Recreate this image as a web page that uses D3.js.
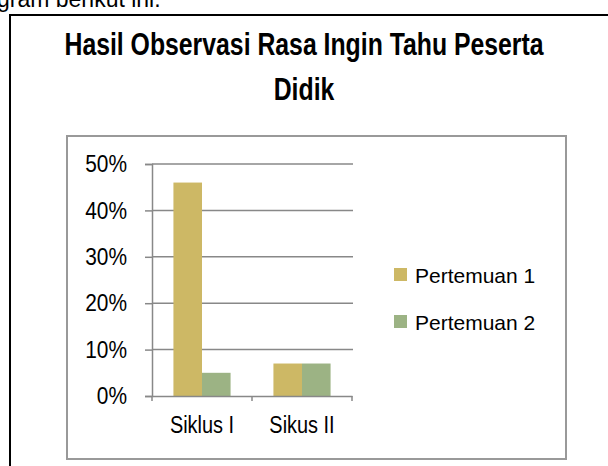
<!DOCTYPE html>
<html>
<head>
<meta charset="utf-8">
<script src="https://d3js.org/d3.v7.min.js"></script>
<style>
body { margin: 0; background: #fff; }
svg { display: block; font-family: "Liberation Sans", Arial, sans-serif; }
</style>
</head>
<body>
<svg id="chart"></svg>
<script>
// data
const categories = ["Siklus I", "Sikus II"];
const seriesNames = ["Pertemuan 1", "Pertemuan 2"];
const pertemuan1 = [0.46, 0.07];
const pertemuan2 = [0.05, 0.07];
const yTicks = [0, 0.1, 0.2, 0.3, 0.4, 0.5];
const colors = ["#CDB865", "#9CB384"];

const W = 608, H = 466;
const svg = d3.select("#chart").attr("width", W).attr("height", H);

// the source picture squeezes most text sideways
function squeezed(sel, x, y, sx) {
  return sel.attr("transform", `translate(${x},${y}) scale(${sx},1)`);
}

// text cut off from the page above
svg.append("text")
  .attr("font-size", 23)
  .call(squeezed, -3, 7, 1)
  .text("gram berikut ini.");

// outer frame (page table)
svg.append("line").attr("x1", 9).attr("x2", 608).attr("y1", 15).attr("y2", 15)
  .attr("stroke", "#000").attr("stroke-width", 2);
svg.append("line").attr("x1", 10).attr("x2", 10).attr("y1", 15).attr("y2", H)
  .attr("stroke", "#000").attr("stroke-width", 2);

// title
svg.append("text").attr("text-anchor", "middle")
  .attr("font-size", 31).attr("font-weight", "bold")
  .call(squeezed, 304, 55, 0.8)
  .text("Hasil Observasi Rasa Ingin Tahu Peserta");
svg.append("text").attr("text-anchor", "middle")
  .attr("font-size", 31).attr("font-weight", "bold")
  .call(squeezed, 304, 100, 0.8)
  .text("Didik");

// plot area box
svg.append("rect")
  .attr("x", 67).attr("y", 136).attr("width", 499).attr("height", 323)
  .attr("fill", "none").attr("stroke", "#999").attr("stroke-width", 2);

const pLeft = 152, pRight = 352, pTop = 164, pBottom = 396;

const y = d3.scaleLinear().domain([0, 0.5]).range([pBottom, pTop]);
const x0 = d3.scaleBand().domain(categories).range([pLeft, pRight]).paddingInner(0).paddingOuter(0);
const x1 = d3.scaleBand().domain(seriesNames).range([0, x0.bandwidth()])
  .paddingInner(0).paddingOuter(0.75);

// gridlines
svg.append("g").selectAll("line").data(yTicks.slice(1)).join("line")
  .attr("x1", pLeft).attr("x2", pRight + 1)
  .attr("y1", d => y(d)).attr("y2", d => y(d))
  .attr("stroke", "#888").attr("stroke-width", 1.5);

// bars
const rows = categories.map((c, i) => ({ cat: c, values: [pertemuan1[i], pertemuan2[i]] }));
const groups = svg.append("g").selectAll("g").data(rows).join("g")
  .attr("transform", d => `translate(${x0(d.cat)},0)`);
groups.selectAll("rect").data(d => d.values.map((v, j) => ({ name: seriesNames[j], v: v, j: j })))
  .join("rect")
  .attr("x", d => x1(d.name))
  .attr("width", x1.bandwidth())
  .attr("y", d => y(d.v))
  .attr("height", d => pBottom - y(d.v))
  .attr("fill", d => colors[d.j]);

// y axis
const ySx = 0.87;
const yAxis = svg.append("g")
  .attr("transform", `translate(${pLeft},0)`)
  .call(d3.axisLeft(y).tickValues(yTicks).tickFormat(d3.format(".0%")).tickSize(7));
yAxis.select(".domain").attr("stroke", "#888").attr("stroke-width", 1.5);
yAxis.selectAll(".tick line").attr("stroke", "#888").attr("stroke-width", 1.5);
yAxis.selectAll("text")
  .attr("font-size", 24).attr("fill", "#000").attr("font-family", "Liberation Sans, Arial, sans-serif")
  .attr("x", -25 / ySx).attr("transform", `scale(${ySx},1)`);

// x axis
const xAxis = svg.append("g")
  .attr("transform", `translate(0,${pBottom})`)
  .call(d3.axisBottom(x0).tickSize(0).tickPadding(20));
xAxis.select(".domain").attr("stroke", "#888").attr("stroke-width", 1.5);
xAxis.selectAll("text")
  .attr("font-size", 24).attr("fill", "#000").attr("font-family", "Liberation Sans, Arial, sans-serif")
  .attr("transform", "scale(0.83,1)");
// category boundary ticks
svg.append("g").selectAll("line").data([pLeft, x0(categories[1]), pRight]).join("line")
  .attr("x1", d => d).attr("x2", d => d)
  .attr("y1", pBottom).attr("y2", pBottom + 5)
  .attr("stroke", "#888").attr("stroke-width", 1.5);

// legend
const legend = svg.append("g").selectAll("g").data(seriesNames).join("g")
  .attr("transform", (d, i) => `translate(394,${268 + i * 47})`);
legend.append("rect").attr("width", 13).attr("height", 13).attr("fill", (d, i) => colors[i]);
legend.append("text").attr("x", 21).attr("y", 15).attr("font-size", 21).text(d => d);
</script>
</body>
</html>
